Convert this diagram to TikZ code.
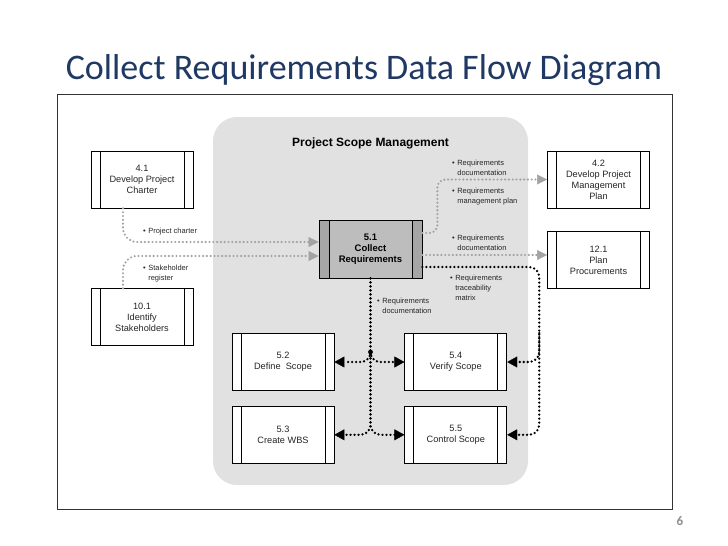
\documentclass[tikz,border=0pt]{standalone}
\usepackage{fontspec}
\setmainfont{Liberation Sans}
\newfontfamily\titlefont{Carlito}
\usetikzlibrary{positioning,arrows.meta}

\definecolor{titleblue}{HTML}{1F3864}
\definecolor{scopegray}{HTML}{E1E1E1}
\definecolor{colgray}{HTML}{BDBDBD}
\definecolor{stripgray}{HTML}{A6A6A6}
\definecolor{flowgray}{HTML}{A3A3A3}

\newcommand{\bitem}[1]{\textbullet\hspace{2.5pt}\begin{tabular}[t]{@{}l@{}}#1\end{tabular}}

\tikzset{
  proc/.style={draw, line width=0.8pt, fill=white, minimum width=102pt,
    minimum height=57pt, inner sep=0pt, align=center, text=black!85,
    font=\fontsize{9.2}{11}\selectfont,
    path picture={\draw[line width=0.7pt]
      ([xshift=9pt]path picture bounding box.north west) -- ([xshift=9pt]path picture bounding box.south west)
      ([xshift=-9pt]path picture bounding box.north east) -- ([xshift=-9pt]path picture bounding box.south east);}},
  colproc/.style={draw, line width=0.8pt, fill=colgray, minimum width=103pt,
    minimum height=58pt, inner sep=0pt, align=center,
    font=\bfseries\fontsize{9.5}{11}\selectfont,
    path picture={\draw[line width=0.7pt, fill=stripgray]
      (path picture bounding box.north west) rectangle ([xshift=10pt]path picture bounding box.south west)
      (path picture bounding box.north east) rectangle ([xshift=-10pt]path picture bounding box.south east);}},
  lbl/.style={inner sep=0pt, anchor=north west, text=black!85,
    font=\fontsize{7.5}{10}\selectfont},
  grayflow/.style={draw=flowgray, line width=2.4pt, line cap=round,
    dash pattern=on 0pt off 3.8pt, rounded corners=14pt,
    -{Triangle[length=10pt,width=10pt,line width=0.4pt,fill=flowgray]}},
  blkflow/.style={draw=black, line width=2.6pt, line cap=round,
    dash pattern=on 0pt off 4pt, rounded corners=10pt,
    -{Triangle[length=10pt,width=11pt,line width=0.4pt]}}
}

\begin{document}
\begin{tikzpicture}[x=1pt,y=-1pt]
  \useasboundingbox (0,0) rectangle (728,546);
  \node[font=\titlefont\fontsize{36}{40}\selectfont, text=titleblue, anchor=base] (ttl) at (364,79) {Collect Requirements Data Flow Diagram};
  \draw[line width=1pt, black!80] (57,94) rectangle (672,509);
  \node[font=\titlefont\bfseries\fontsize{13}{13}\selectfont, text=black!45] (pg) at (680,521) {6};
  % scope area
  \fill[scopegray, rounded corners=24pt] (213,117) rectangle (528,485);

  \node[colproc] (col) at (370.5,249) {5.1\\Collect\\Requirements};
  \node[font=\bfseries\fontsize{12}{14}\selectfont, inner sep=0pt, above=70pt of col] (psm) {Project Scope Management};
  \node[proc] (dpc) at (142,179.5) {4.1\\Develop Project\\Charter};
  \node[proc] (ids) [below=80pt of dpc] {10.1\\Identify\\Stakeholders};
  \node[proc] (dpm) at (598.5,179.5) {4.2\\Develop Project\\Management\\Plan};
  \node[proc] (ppr) [below=23pt of dpm] {12.1\\Plan\\Procurements};
  \node[proc] (dfs) at (283,362) {5.2\\Define\ \ Scope};
  \node[proc] (vfs) [right=70pt of dfs] {5.4\\Verify Scope};
  \node[proc] (cwb) [below=15pt of dfs] {5.3\\Create WBS};
  \node[proc] (ctl) [below=15pt of vfs] {5.5\\Control Scope};

  % labels
  \node[lbl] (lpc) at (143,226) {\bitem{Project charter}};
  \node[lbl] (lsr) at (143,263) {\bitem{Stakeholder\\register}};
  \node[lbl] (lrd1) at (452,158) {\bitem{Requirements\\documentation}};
  \node[lbl] (lrm) at (452,186) {\bitem{Requirements\\management plan}};
  \node[lbl] (lrd2) at (452,233) {\bitem{Requirements\\documentation}};
  \node[lbl] (lrt) at (450,273) {\bitem{Requirements\\traceability\\matrix}};
  \node[lbl] (lrd3) at (377,296) {\bitem{Requirements\\documentation}};

  % inputs
  \draw[grayflow] ([xshift=-19pt]dpc.south) |- ([yshift=7pt]col.west);
  \draw[grayflow] ([xshift=-19pt]ids.north) |- ([yshift=-7pt]col.west);
  % outputs
  \draw[grayflow, rounded corners=8pt] ([yshift=16pt]col.east) -- ++(15pt,0) |- (dpm.west);
  \coordinate (rqo) at ([yshift=-6pt]col.east);
  \draw[grayflow] (rqo) -- (rqo -| ppr.west);
  \coordinate (rtm) at ([yshift=-18pt]col.east);
  \coordinate (rtv) at ([xshift=32pt]ctl.east);
  \draw[blkflow] (rtm) -| (rtv) -- (ctl.east);
  \draw[blkflow] (rtv |- vfs.north) |- (vfs.east);
  \draw[blkflow] (col.south) |- (cwb.east);
  \draw[blkflow] (col.south) |- (ctl.west);
  \coordinate (brk) at ([yshift=10pt]dfs.east -| col.south);
  \draw[blkflow] (brk) |- (dfs.east);
  \draw[blkflow] (brk) |- (vfs.west);
  \fill (brk) circle (2.4pt);
\end{tikzpicture}
\end{document}
